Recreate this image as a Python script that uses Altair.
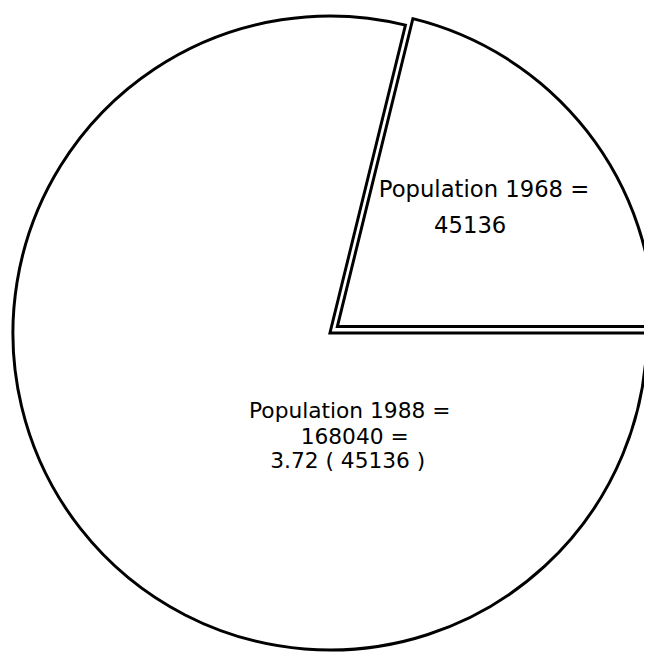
import math
import altair as alt
import pandas as pd

# Data
labels = ["Population 1968", "Population 1988"]
values = [45136, 168040]
order = [0, 1]

ratio = values[1] / values[0]
lines_1968 = [f"{labels[0]} =", f"{values[0]}"]
lines_1988 = [f"{labels[1]} =", f"{values[1]} =", f"{ratio:.2f}  ( {values[0]} )"]

df = pd.DataFrame({"label": labels, "value": values, "order": order})

R = 321
total = sum(values)
theta_scale = alt.Scale(domain=[0, total], range=[2.5 * math.pi, 0.5 * math.pi])

base = alt.Chart(df).mark_arc(
    radius=R, fill="white", stroke="black", strokeWidth=3, strokeJoin="miter"
).encode(
    theta=alt.Theta("value:Q", stack=True, scale=theta_scale),
    order=alt.Order("order:Q"),
)

big = base.encode(
    x=alt.value(326),
    y=alt.value(325),
    strokeOpacity=alt.condition(alt.datum.label == labels[1], alt.value(1), alt.value(0)),
    fillOpacity=alt.condition(alt.datum.label == labels[1], alt.value(1), alt.value(0)),
)

wedge = base.encode(
    x=alt.value(333.5),
    y=alt.value(318.5),
    strokeOpacity=alt.condition(alt.datum.label == labels[0], alt.value(1), alt.value(0)),
    fillOpacity=alt.condition(alt.datum.label == labels[0], alt.value(1), alt.value(0)),
)

FONT = "DejaVu Sans"

def text_line(s, x, y, size):
    return alt.Chart(pd.DataFrame({"t": [s]})).mark_text(
        font=FONT, fontSize=size, align="center", baseline="alphabetic", color="black"
    ).encode(text="t:N", x=alt.value(x), y=alt.value(y))

texts = [
    text_line(lines_1968[0], 482, 187, 23),
    text_line(lines_1968[1], 468, 224, 23),
    text_line(lines_1988[0], 346, 411, 22),
    text_line(lines_1988[1], 351, 437, 22),
    text_line(lines_1988[2], 344, 462, 22),
]

chart = alt.layer(big, wedge, *texts).properties(
    width=644, height=649, autosize="none", padding=0, background="white"
).configure_view(stroke=None)

chart.save("out.html", embed_options={"renderer": "svg", "actions": False})
